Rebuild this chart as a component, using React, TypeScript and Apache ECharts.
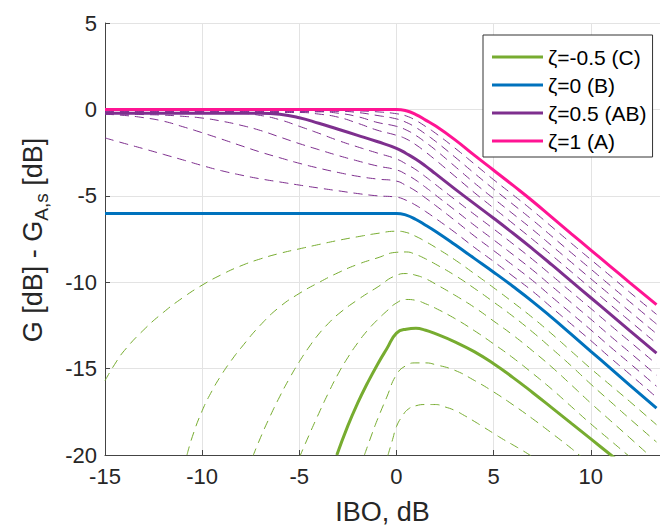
import React, { useEffect, useRef } from "react";
import * as echarts from "echarts";

const FONT = "'Liberation Sans', Arial, Helvetica, sans-serif";

// x tick values
const X_TICKS = [-15, -10, -5, 0, 5, 10];
const Y_TICKS = [5, 0, -5, -10, -15, -20];

// common x grid (IBO, dB) for the upper family of curves
const X_MAIN = [-15, -14, -13, -12, -11, -10, -9, -8, -7, -6, -5, -4, -3, -2, -1, 0, 0.5, 1, 1.5, 2, 3, 4, 5, 6, 7, 8, 9, 10, 11, 12, 13.38];

// solid curves
const Y_Z1 = [0, 0, 0, 0, 0, 0, 0, 0, 0, 0, 0, 0, 0, 0, 0, 0, -0.08, -0.3, -0.62, -0.95, -1.75, -2.65, -3.52, -4.4, -5.3, -6.25, -7.2, -8.14, -9.08, -10.02, -11.3];
const Y_Z05 = [-0.22, -0.22, -0.22, -0.22, -0.22, -0.22, -0.22, -0.22, -0.22, -0.28, -0.48, -0.8, -1.15, -1.5, -1.86, -2.25, -2.55, -2.88, -3.28, -3.72, -4.6, -5.45, -6.3, -7.17, -8.07, -9.0, -9.95, -10.9, -11.85, -12.8, -14.1];
const Y_Z0 = [-6.02, -6.02, -6.02, -6.02, -6.02, -6.02, -6.02, -6.02, -6.02, -6.02, -6.02, -6.02, -6.02, -6.02, -6.02, -6.02, -6.12, -6.37, -6.7, -7.05, -7.82, -8.62, -9.42, -10.25, -11.12, -12.05, -13.02, -14.0, -14.97, -15.95, -17.29];

// dashed purple curves (zeta = 0.1 ... 0.9)
const Y_Z09 = [-0.08, -0.08, -0.08, -0.08, -0.08, -0.08, -0.08, -0.08, -0.08, -0.08, -0.08, -0.08, -0.08, -0.09, -0.14, -0.25, -0.38, -0.64, -0.99, -1.37, -2.23, -3.15, -4.07, -4.95, -5.85, -6.8, -7.75, -8.69, -9.63, -10.58, -11.86];
const Y_Z08 = [-0.11, -0.11, -0.11, -0.11, -0.11, -0.11, -0.11, -0.11, -0.11, -0.11, -0.11, -0.11, -0.11, -0.18, -0.35, -0.55, -0.75, -1.05, -1.43, -1.84, -2.75, -3.69, -4.61, -5.5, -6.4, -7.35, -8.3, -9.24, -10.19, -11.13, -12.42];
const Y_Z07 = [-0.14, -0.14, -0.14, -0.14, -0.14, -0.14, -0.14, -0.14, -0.14, -0.14, -0.14, -0.14, -0.22, -0.42, -0.75, -0.98, -1.19, -1.51, -1.91, -2.34, -3.29, -4.25, -5.16, -6.05, -6.95, -7.9, -8.85, -9.8, -10.74, -11.69, -12.98];
const Y_Z06 = [-0.18, -0.18, -0.18, -0.18, -0.18, -0.18, -0.18, -0.18, -0.18, -0.18, -0.18, -0.27, -0.45, -0.8, -1.2, -1.5, -1.71, -2.05, -2.47, -2.92, -3.86, -4.81, -5.71, -6.61, -7.52, -8.45, -9.4, -10.35, -11.3, -12.24, -13.54];
const Y_Z04 = [-0.24, -0.24, -0.24, -0.24, -0.24, -0.24, -0.24, -0.24, -0.35, -0.6, -0.98, -1.38, -1.8, -2.17, -2.52, -2.87, -3.16, -3.49, -3.9, -4.34, -5.21, -6.07, -6.92, -7.79, -8.68, -9.62, -10.57, -11.52, -12.48, -13.43, -14.74];
const Y_Z03 = [-0.26, -0.27, -0.3, -0.33, -0.4, -0.5, -0.68, -0.92, -1.22, -1.6, -1.98, -2.33, -2.67, -2.98, -3.27, -3.5, -3.76, -4.1, -4.51, -4.95, -5.82, -6.7, -7.55, -8.41, -9.29, -10.24, -11.19, -12.14, -13.11, -14.06, -15.38];
const Y_Z02 = [-0.28, -0.35, -0.48, -0.68, -1.0, -1.35, -1.72, -2.1, -2.47, -2.8, -3.12, -3.4, -3.65, -3.87, -4.03, -4.15, -4.41, -4.73, -5.13, -5.55, -6.42, -7.32, -8.17, -9.03, -9.9, -10.86, -11.81, -12.76, -13.74, -14.69, -16.02];
const Y_Z01 = [-1.65, -1.97, -2.28, -2.6, -2.92, -3.25, -3.55, -3.8, -4.02, -4.2, -4.38, -4.55, -4.71, -4.87, -5.0, -5.08, -5.26, -5.55, -5.91, -6.3, -7.11, -7.98, -8.8, -9.66, -10.52, -11.48, -12.43, -13.38, -14.37, -15.32, -16.66];

// green curves (zeta < 0), each with its own x grid
const X_ZM01 = [-15, -14.5, -14, -13, -12, -11, -10, -9, -8, -7, -6, -5, -4, -3, -2, -1, 0, 0.5, 1, 1.5, 2, 3, 4, 5, 6, 7, 8, 9, 10, 11, 12, 13.38];
const Y_ZM01 = [-15.7, -14.75, -13.95, -12.75, -11.75, -10.9, -10.17, -9.56, -9.05, -8.65, -8.33, -8.07, -7.82, -7.58, -7.37, -7.18, -7.05, -7.12, -7.35, -7.65, -7.98, -8.7, -9.5, -10.32, -11.17, -12.05, -13.0, -14.0, -15.0, -15.95, -16.9, -18.25];
const X_ZM02 = [-10.78, -10.5, -10, -9.5, -9, -8.5, -8, -7, -6, -5, -4, -3, -2, -1, 0, 0.5, 1, 1.5, 2, 3, 4, 5, 6, 7, 8, 9, 10, 11, 12, 13.38];
const Y_ZM02 = [-20, -18.92, -17.44, -16.3, -15.35, -14.53, -13.8, -12.48, -11.42, -10.65, -10.02, -9.45, -8.97, -8.6, -8.27, -8.25, -8.4, -8.65, -8.95, -9.6, -10.35, -11.15, -11.98, -12.88, -13.85, -14.85, -15.9, -16.9, -17.9, -19.25];
const X_ZM03 = [-7.4, -7, -6.5, -6, -5.5, -5, -4.5, -4, -3.5, -3, -2, -1, 0, 0.5, 1, 1.5, 2, 3, 4, 5, 6, 7, 8, 9, 10, 11, 12, 13.38];
const Y_ZM03 = [-20.1, -19.0, -17.75, -16.6, -15.55, -14.6, -13.75, -13.0, -12.38, -11.85, -11.02, -10.3, -9.6, -9.5, -9.6, -9.8, -10.1, -10.75, -11.45, -12.25, -13.07, -13.97, -14.92, -15.95, -17.0, -18.0, -19.0, -20.4];
const X_ZM04 = [-5, -4.5, -4, -3.5, -3, -2.5, -2, -1.5, -1, -0.5, 0, 0.5, 1, 1.5, 2, 3, 4, 5, 6, 7, 8, 9, 10, 11, 12, 13.38];
const Y_ZM04 = [-20.15, -18.85, -17.6, -16.4, -15.3, -14.35, -13.52, -12.8, -12.2, -11.67, -11.2, -11.0, -11.05, -11.25, -11.5, -12.1, -12.8, -13.57, -14.38, -15.27, -16.2, -17.2, -18.2, -19.15, -20.1, -21.4];
const X_ZM05 = [-3.07, -2.5, -2, -1.5, -1, -0.5, 0, 0.5, 1, 1.5, 2, 3, 4, 5, 6, 7, 8, 9, 10, 11, 11.5];
const Y_ZM05 = [-20, -18.3, -17.0, -15.85, -14.8, -13.85, -12.95, -12.72, -12.67, -12.78, -12.98, -13.45, -14.02, -14.72, -15.52, -16.38, -17.27, -18.17, -19.07, -19.97, -20.42];
const X_ZM06 = [-1.65, -1.3, -1, -0.5, 0, 0.5, 1, 1.5, 2, 3, 4, 5, 6, 7, 8, 9, 9.4, 10];
const Y_ZM06 = [-20, -18.9, -18.0, -16.65, -15.35, -14.82, -14.67, -14.67, -14.77, -15.1, -15.68, -16.35, -17.1, -17.9, -18.75, -19.62, -20.0, -20.55];
const X_ZM07 = [-0.45, -0.2, 0, 0.3, 0.6, 1, 1.5, 2, 2.5, 3, 3.5, 4, 4.5, 5, 5.5, 6, 6.5, 7];
const Y_ZM07 = [-20.05, -19.1, -18.35, -17.75, -17.35, -17.15, -17.08, -17.08, -17.22, -17.42, -17.72, -18.05, -18.4, -18.75, -19.1, -19.42, -19.75, -20.1];

const LEGEND_NAMES = ["ζ=-0.5 (C)", "ζ=0 (B)", "ζ=0.5 (AB)", "ζ=1 (A)"];

const C_GREEN = "#77AC30";
const C_BLUE = "#0072BD";
const C_PURPLE = "#7E2F8E";
const C_PINK = "#FF1493";

const zip = (xs: number[], ys: number[]) => xs.map((x, i) => [x, ys[i]]);

function lineSeries(name: string, xs: number[], ys: number[], color: string, dashed: boolean) {
  return {
    name,
    type: "line",
    data: zip(xs, ys),
    showSymbol: false,
    symbol: "none",
    smooth: 0.5,
    clip: true,
    silent: true,
    lineStyle: dashed
      ? { color, width: 1, type: [9, 6] }
      : { color, width: 3 },
    itemStyle: { color },
    z: dashed ? 2 : 3,
  };
}

export default function App() {
  const ref = useRef<HTMLDivElement>(null);
  useEffect(() => {
    if (!ref.current) return;
    const chart = echarts.init(ref.current, null, { renderer: "svg" });
    const series = [
      lineSeries("p09", X_MAIN, Y_Z09, C_PURPLE, true),
      lineSeries("p08", X_MAIN, Y_Z08, C_PURPLE, true),
      lineSeries("p07", X_MAIN, Y_Z07, C_PURPLE, true),
      lineSeries("p06", X_MAIN, Y_Z06, C_PURPLE, true),
      lineSeries("p04", X_MAIN, Y_Z04, C_PURPLE, true),
      lineSeries("p03", X_MAIN, Y_Z03, C_PURPLE, true),
      lineSeries("p02", X_MAIN, Y_Z02, C_PURPLE, true),
      lineSeries("p01", X_MAIN, Y_Z01, C_PURPLE, true),
      lineSeries("g01", X_ZM01, Y_ZM01, C_GREEN, true),
      lineSeries("g02", X_ZM02, Y_ZM02, C_GREEN, true),
      lineSeries("g03", X_ZM03, Y_ZM03, C_GREEN, true),
      lineSeries("g04", X_ZM04, Y_ZM04, C_GREEN, true),
      lineSeries("g06", X_ZM06, Y_ZM06, C_GREEN, true),
      lineSeries("g07", X_ZM07, Y_ZM07, C_GREEN, true),
      lineSeries(LEGEND_NAMES[0], X_ZM05, Y_ZM05, C_GREEN, false),
      lineSeries(LEGEND_NAMES[1], X_MAIN, Y_Z0, C_BLUE, false),
      lineSeries(LEGEND_NAMES[2], X_MAIN, Y_Z05, C_PURPLE, false),
      lineSeries(LEGEND_NAMES[3], X_MAIN, Y_Z1, C_PINK, false),
    ];
    chart.setOption({
      animation: false,
      backgroundColor: "#ffffff",
      grid: { left: 105, right: -3, top: 23, bottom: 74, containLabel: false },
      xAxis: {
        type: "value",
        min: X_TICKS[0],
        max: 13.56,
        interval: 5,
        name: "IBO, dB",
        nameLocation: "middle",
        nameGap: 43,
        nameTextStyle: { fontFamily: FONT, fontSize: 27, color: "#262626" },
        axisLine: { show: true, onZero: false, lineStyle: { color: "#444", width: 1 } },
        axisTick: { show: true, inside: true, length: 5, lineStyle: { color: "#444" } },
        axisLabel: { fontFamily: FONT, fontSize: 22, color: "#262626", margin: 10, showMaxLabel: false },
        splitLine: { show: true, lineStyle: { color: "#e3e3e3", width: 1 } },
      },
      yAxis: {
        type: "value",
        min: Y_TICKS[Y_TICKS.length - 1],
        max: Y_TICKS[0],
        interval: 5,
        axisLine: { show: true, onZero: false, lineStyle: { color: "#444", width: 1 } },
        axisTick: { show: true, inside: true, length: 5, lineStyle: { color: "#444" } },
        axisLabel: { fontFamily: FONT, fontSize: 22, color: "#262626", margin: 8 },
        splitLine: { show: true, lineStyle: { color: "#e3e3e3", width: 1 } },
      },
      legend: {
        data: LEGEND_NAMES,
        orient: "vertical",
        left: 483,
        top: 35,
        padding: [10, 6, 4, 9],
        itemGap: 4,
        itemWidth: 51,
        itemHeight: 3,
        icon: "rect",
        backgroundColor: "#ffffff",
        borderColor: "#333",
        borderWidth: 1,
        borderRadius: 0,
        textStyle: { fontFamily: FONT, fontSize: 21, color: "#000", lineHeight: 24 },
        selectedMode: false,
      },
      graphic: [
        {
          type: "text",
          x: 33,
          y: 240,
          rotation: Math.PI / 2,
          style: {
            text: "{m|G [dB] - G}{s|A,s}{m| [dB]}",
            align: "center",
            verticalAlign: "middle",
            rich: {
              m: { fontFamily: FONT, fontSize: 27, lineHeight: 36, fill: "#262626", verticalAlign: "middle" },
              s: { fontFamily: FONT, fontSize: 19, lineHeight: 19, fill: "#262626", verticalAlign: "bottom" },
            },
          },
        },
      ],
      series,
    });
    return () => chart.dispose();
  }, []);
  return <div ref={ref} style={{ position: "absolute", left: 0, top: 0, width: 660, height: 530 }} />;
}
